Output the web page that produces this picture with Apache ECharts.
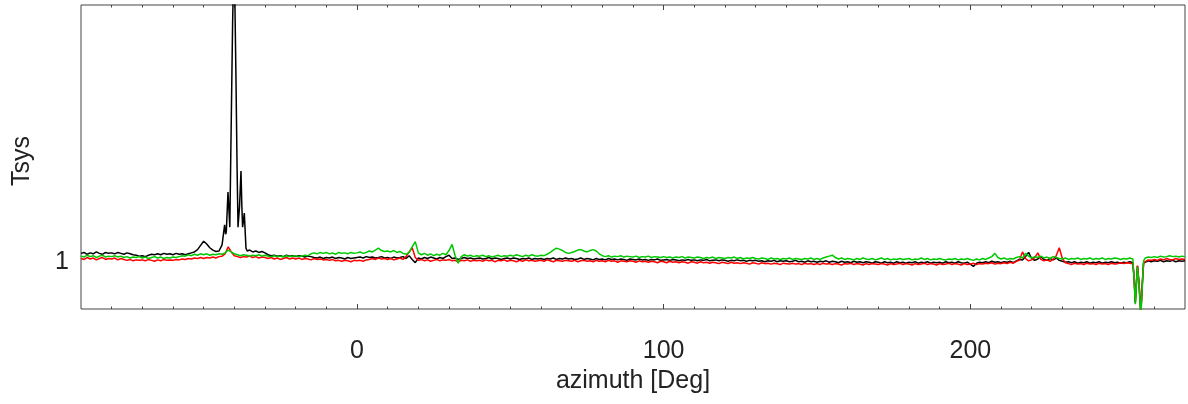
<!DOCTYPE html>
<html>
<head>
<meta charset="utf-8">
<script src="https://cdn.jsdelivr.net/npm/echarts@6/dist/echarts.min.js"></script>
<style>
html,body{margin:0;padding:0;background:#fff;}
#chart{width:1188px;height:404px;}
</style>
</head>
<body>
<div id="chart"></div>
<script>
// ---- Data ----
const azimuthStart = -90;   // first sample of the 1-degree grid
const azimuthStep = 1;      // degrees between grid samples

// Tsys, black channel, -90..270 deg (null where the fine arrays below take over)
const tsysBlack = [
1.019,1.021,1.017,1.020,1.018,1.022,1.019,1.017,1.021,1.019,
1.020,1.018,1.021,1.019,1.017,1.020,1.018,1.016,1.015,1.013,
1.014,1.012,1.015,1.017,1.016,1.018,1.016,1.019,1.017,1.018,
1.016,1.019,1.017,1.018,1.016,1.018,1.020,1.022,1.027,1.036,
1.045,1.039,1.031,1.026,1.023,1.024,null,null,null,null,
null,null,null,null,null,1.026,1.022,1.024,1.021,1.023,
1.020,1.016,1.014,1.015,1.013,1.014,1.012,1.015,1.013,1.014,
1.012,1.014,1.013,1.011,1.013,1.012,1.010,1.009,1.011,1.008,
1.010,1.009,1.011,1.008,1.010,1.009,1.007,1.010,1.008,1.009,
1.010,1.011,1.009,1.012,1.010,1.011,1.009,1.010,1.012,1.009,
1.010,1.008,1.011,1.009,1.010,1.012,1.008,1.014,1.006,0.999,
1.009,1.007,1.010,1.008,1.011,1.009,1.007,1.010,1.008,1.012,
1.015,1.008,1.009,1.006,1.008,1.010,1.008,1.009,1.007,1.008,
1.009,1.007,1.008,1.010,1.007,1.009,1.008,1.006,1.008,1.009,
1.007,1.009,1.008,1.006,1.008,1.007,1.009,1.006,1.008,1.007,
1.008,1.006,1.008,1.007,1.009,1.006,1.008,1.007,1.009,1.007,
1.008,1.006,1.007,1.009,1.006,1.008,1.007,1.005,1.008,1.006,
1.007,1.005,1.008,1.006,1.007,1.005,1.007,1.006,1.004,1.007,
1.006,1.005,1.007,1.005,1.006,1.004,1.006,1.005,1.007,1.004,
1.005,1.006,1.004,1.006,1.005,1.003,1.005,1.004,1.006,1.004,
1.005,1.003,1.005,1.004,1.006,1.003,1.004,1.005,1.003,1.005,
1.004,1.002,1.004,1.003,1.005,1.003,1.004,1.002,1.004,1.003,
1.004,1.002,1.003,1.001,1.003,1.002,1.004,1.001,1.003,1.002,
1.003,1.001,1.002,1.004,1.001,1.002,1.000,1.003,1.001,1.002,
1.000,1.002,1.001,1.003,1.000,1.002,1.001,0.999,1.002,1.000,
1.001,0.999,1.002,1.000,1.001,0.999,1.001,1.000,0.998,1.001,
1.000,0.998,1.001,0.999,1.000,0.998,1.001,0.999,1.000,0.998,
1.000,0.999,1.001,0.998,1.000,0.999,1.001,0.998,1.000,0.999,
1.000,0.998,1.001,0.999,1.000,0.998,1.001,0.999,0.998,1.000,
0.996,0.991,0.998,1.000,0.999,1.001,0.999,1.002,1.000,1.001,
0.999,1.001,1.000,1.002,0.999,1.003,1.006,1.005,1.012,1.021,
1.008,1.004,1.007,1.012,1.006,1.004,1.008,1.005,1.009,1.004,
1.002,1.000,1.001,0.999,1.001,0.998,1.000,0.999,1.001,0.998,
1.000,0.999,1.001,0.998,1.000,0.999,1.001,0.999,1.000,0.998,
1.000,0.999,1.001,0.999,null,null,null,1.001,1.003,1.001,
1.003,1.002,1.004,1.001,1.003,1.002,1.004,1.001,1.003,1.002,
1.003
];

// Tsys, red channel
const tsysRed = [
1.008,1.006,1.010,1.007,1.009,1.005,1.008,1.010,1.006,1.008,
1.007,1.009,1.005,1.008,1.006,1.004,1.006,1.003,1.005,1.004,
1.005,1.003,1.006,1.004,1.002,1.005,1.003,1.006,1.004,1.005,
1.004,1.006,1.005,1.007,1.006,1.008,1.007,1.009,1.008,1.010,
1.008,1.010,1.009,1.011,1.009,1.012,1.013,1.018,1.033,1.022,
1.014,1.012,1.010,1.012,1.011,1.013,1.010,1.012,1.009,1.011,
1.010,1.008,1.010,1.007,1.009,1.006,1.008,1.010,1.007,1.009,
1.007,1.009,1.006,1.008,1.007,1.005,1.008,1.006,1.007,1.005,
1.006,1.004,1.006,1.003,1.004,1.002,1.004,1.003,1.001,1.004,
1.003,1.004,1.002,1.005,1.006,1.008,1.006,1.009,1.007,1.008,
1.006,1.008,1.005,1.007,1.009,1.006,1.012,1.022,1.031,1.010,
1.004,1.006,1.003,1.005,1.002,1.004,1.006,1.003,1.005,1.004,
1.006,1.003,1.004,1.001,1.004,1.003,1.005,1.002,1.004,1.003,
1.004,1.002,1.005,1.003,1.004,1.001,1.004,1.003,1.005,1.002,
1.004,1.003,1.001,1.004,1.002,1.005,1.003,1.004,1.002,1.003,
1.004,1.002,1.005,1.003,1.001,1.004,1.003,1.002,1.004,1.003,
1.002,1.004,1.001,1.003,1.004,1.002,1.003,1.001,1.004,1.002,
1.003,1.001,1.004,1.002,1.003,1.000,1.003,1.002,1.001,1.003,
1.002,1.000,1.003,1.001,1.002,1.000,1.002,1.001,0.999,1.002,
1.001,0.999,1.002,1.000,1.001,0.999,1.001,1.000,0.998,1.001,
1.000,0.998,1.001,0.999,1.000,0.998,1.000,0.999,0.997,1.000,
0.999,0.997,1.000,0.998,0.999,0.997,0.999,0.998,0.996,0.999,
0.998,0.996,0.999,0.997,0.998,0.996,0.998,0.997,0.995,0.998,
0.997,0.996,0.998,0.996,0.997,0.995,0.998,0.996,0.997,0.995,
0.997,0.995,0.998,0.996,0.997,0.995,0.997,0.996,0.994,0.997,
0.996,0.998,0.995,0.997,0.996,0.994,0.997,0.995,0.997,0.996,
0.995,0.997,0.996,0.994,0.997,0.995,0.996,0.998,0.995,0.997,
0.996,0.994,0.997,0.995,0.996,0.998,0.995,0.997,0.996,0.994,
0.997,0.995,0.996,0.998,0.995,0.997,0.996,0.994,0.997,0.995,
0.996,0.998,0.995,0.997,0.996,0.998,0.997,0.999,0.996,0.998,
0.997,0.999,0.997,1.000,0.998,1.002,1.004,1.022,1.008,1.003,
1.005,1.010,1.020,1.006,1.003,1.005,1.002,1.006,1.014,1.031,
1.008,0.999,0.997,0.995,0.998,0.996,0.997,0.995,0.998,0.996,
0.997,0.995,0.998,0.996,0.997,0.995,0.998,0.996,0.997,0.999,
0.997,0.999,0.998,0.997,null,null,null,1.002,1.005,1.004,
1.006,1.004,1.007,1.005,1.008,1.006,1.005,1.008,1.006,1.007,
1.006
];

// Tsys, green channel
const tsysGreen = [
1.013,1.011,1.015,1.012,1.014,1.010,1.013,1.015,1.011,1.013,
1.012,1.014,1.011,1.013,1.010,1.012,1.009,1.011,1.010,1.012,
1.009,1.011,1.008,1.010,1.012,1.009,1.011,1.008,1.010,1.009,
1.011,1.010,1.012,1.014,1.013,1.016,1.014,1.017,1.015,1.018,
1.016,1.018,1.015,1.017,1.016,1.018,1.017,1.020,1.026,1.022,
1.018,1.016,1.014,1.016,1.015,1.013,1.015,1.014,1.016,1.013,
1.015,1.013,1.012,1.014,1.012,1.013,1.011,1.014,1.012,1.013,
1.014,1.012,1.013,1.015,1.014,1.018,1.020,1.018,1.021,1.019,
1.021,1.018,1.020,1.017,1.021,1.019,1.020,1.018,1.021,1.019,
1.020,1.022,1.019,1.021,1.024,1.022,1.026,1.030,1.025,1.023,
1.024,1.022,1.025,1.021,1.023,1.019,1.017,1.021,1.033,1.044,
1.020,1.016,1.019,1.015,1.018,1.014,1.017,1.015,1.019,1.016,
1.025,1.038,1.014,0.998,1.012,1.016,1.013,1.015,1.012,1.014,
1.013,1.015,1.012,1.014,1.011,1.013,1.015,1.012,1.014,1.013,
1.015,1.013,1.016,1.014,1.012,1.015,1.013,1.016,1.014,1.013,
1.015,1.014,1.017,1.021,1.026,1.030,1.028,1.025,1.021,1.019,
1.021,1.023,1.026,1.027,1.024,1.022,1.025,1.027,1.024,1.018,
1.014,1.012,1.014,1.011,1.013,1.012,1.014,1.011,1.013,1.012,
1.011,1.013,1.010,1.012,1.011,1.013,1.010,1.012,1.011,1.010,
1.012,1.010,1.011,1.009,1.011,1.010,1.012,1.009,1.011,1.010,
1.009,1.011,1.010,1.008,1.010,1.009,1.011,1.008,1.010,1.009,
1.008,1.010,1.009,1.011,1.008,1.010,1.007,1.009,1.008,1.010,
1.008,1.007,1.009,1.008,1.006,1.009,1.007,1.008,1.006,1.008,
1.007,1.009,1.006,1.008,1.007,1.006,1.008,1.007,1.009,1.006,
1.008,1.006,1.009,1.011,1.013,1.015,1.010,1.007,1.009,1.006,
1.008,1.007,1.005,1.008,1.006,1.009,1.007,1.006,1.008,1.005,
1.007,1.009,1.006,1.008,1.005,1.007,1.006,1.008,1.006,1.007,
1.008,1.005,1.007,1.006,1.009,1.006,1.008,1.005,1.007,1.006,
1.008,1.006,1.005,1.007,1.006,1.008,1.005,1.007,1.006,1.008,
1.006,1.004,1.007,1.005,1.008,1.006,1.009,1.012,1.019,1.010,
1.007,1.009,1.006,1.008,1.007,1.010,1.012,1.009,1.019,1.013,
1.009,1.012,1.010,1.013,1.009,1.011,1.008,1.012,1.010,1.008,
1.007,1.009,1.006,1.008,1.007,1.009,1.006,1.008,1.007,1.009,
1.006,1.008,1.007,1.009,1.006,1.008,1.007,1.009,1.008,1.006,
1.008,1.007,1.009,1.007,null,null,null,1.009,1.011,1.010,
1.012,1.010,1.013,1.011,1.012,1.014,1.012,1.013,1.011,1.013,
1.012
];

// Fine samples: black main-lobe structure around -40 deg
const peakAzimuth = [-44.6,-44.0,-43.6,-43.17,-42.85,-42.62,-42.07,-41.75,-41.48,-40.57,-40.17,-39.91,-39.46,-39.1,-38.8,-38.3,-37.83,-37.55,-37.3,-36.75,-36.2,-35.8];
const peakBlack   = [1.026,1.037,1.040,1.080,1.060,1.065,1.150,1.110,1.075,1.508,1.650,1.600,1.390,1.200,1.075,1.120,1.195,1.120,1.075,1.105,1.030,1.024];

// Fine samples: double dip near 255 deg (all channels)
const dipAzimuth = [253.4,253.8,254.2,254.5,255.0,255.6,256.1,256.5];
const dipBlack   = [0.965,0.913,0.960,0.992,0.955,0.890,0.955,0.998];
const dipRed     = [0.968,0.915,0.962,0.993,0.957,0.892,0.958,0.999];
const dipGreen   = [0.962,0.910,0.958,0.990,0.950,0.885,0.950,1.003];

// Axis ticks / labels
const xMin = -90, xMax = 270;
const xMajorTicks = [0, 100, 200];
const xMinorTicks = [-80,-70,-60,-50,-40,-30,-20,-10,10,20,30,40,50,60,70,80,90,110,120,130,140,150,160,170,180,190,210,220,230,240,250,260];
const yMin = 0.9, yMax = 1.55;
const yLabels = [1];

// ---- Build series ----
function build(base, extraAz, extraVals) {
  const pts = [];
  base.forEach((v, i) => { if (v !== null) pts.push([azimuthStart + i * azimuthStep, v]); });
  extraAz.forEach((a, i) => pts.push([a, extraVals[i]]));
  pts.sort((p, q) => p[0] - q[0]);
  return pts;
}
const blackData = build(tsysBlack, peakAzimuth.concat(dipAzimuth), peakBlack.concat(dipBlack));
const redData = build(tsysRed, dipAzimuth, dipRed);
const greenData = build(tsysGreen, dipAzimuth, dipGreen);

const FONT = 'Liberation Sans';
const TXT = '#222';
const AX = '#444';

function xAx(pos, ticks, len, withLabel) {
  const a = {
    type: 'value', min: xMin, max: xMax, position: pos, gridIndex: 0,
    axisLine: { show: false }, splitLine: { show: false },
    axisTick: { show: true, inside: true, length: len, customValues: ticks, lineStyle: { color: AX, width: 1 } },
    axisLabel: { show: false }
  };
  if (withLabel) {
    a.axisLabel = { show: true, customValues: xMajorTicks, fontSize: 25, fontFamily: FONT, color: TXT, margin: 30 };
    a.name = 'azimuth [Deg]';
    a.nameLocation = 'middle';
    a.nameGap = 60;
    a.nameTextStyle = { fontSize: 25, fontFamily: FONT, color: TXT };
  }
  return a;
}

const chart = echarts.init(document.getElementById('chart'), null, { renderer: 'canvas' });
chart.setOption({
  animation: false,
  backgroundColor: '#fff',
  grid: { left: 81, right: 3, top: 5, bottom: 95, show: true, borderColor: AX, borderWidth: 1, backgroundColor: 'transparent', containLabel: false },
  xAxis: [
    xAx('bottom', xMajorTicks, 5, true),
    xAx('bottom', xMinorTicks, 2.5, false),
    xAx('top', xMajorTicks, 5, false),
    xAx('top', xMinorTicks, 2.5, false)
  ],
  yAxis: {
    type: 'value', min: yMin, max: yMax,
    axisLine: { show: false }, splitLine: { show: false }, axisTick: { show: false },
    axisLabel: { customValues: yLabels, fontSize: 25, fontFamily: FONT, color: TXT, margin: 12 },
    name: 'Tsys', nameLocation: 'middle', nameGap: 46, nameRotate: 90,
    nameTextStyle: { fontSize: 25, fontFamily: FONT, color: TXT, padding: [0, 8, 0, 0] }
  },
  series: [
    { type: 'line', data: blackData, xAxisIndex: 0, yAxisIndex: 0, showSymbol: false, symbol: 'none', lineStyle: { color: '#000000', width: 1.5 }, itemStyle: { color: '#000' }, clip: true },
    { type: 'line', data: redData, xAxisIndex: 0, yAxisIndex: 0, showSymbol: false, symbol: 'none', lineStyle: { color: '#ff0000', width: 1.5 }, itemStyle: { color: '#f00' }, clip: true },
    { type: 'line', data: greenData, xAxisIndex: 0, yAxisIndex: 0, showSymbol: false, symbol: 'none', lineStyle: { color: '#00c800', width: 1.5 }, itemStyle: { color: '#0c0' }, clip: true }
  ]
});
</script>
</body>
</html>
